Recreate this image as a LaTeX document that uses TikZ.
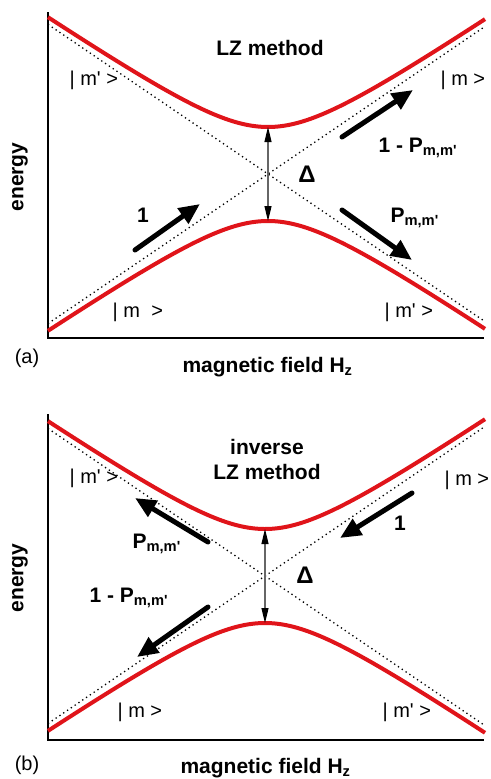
\documentclass[tikz,border=0pt]{standalone}
\usepackage{fontspec}
\setmainfont{Liberation Sans}
\usetikzlibrary{arrows.meta}
\definecolor{levelred}{HTML}{E0141A}
\definecolor{gapgray}{HTML}{666666}
\tikzset{
  level/.style={line width=4pt,draw=levelred},
  asym/.style={line width=1.3pt,dash pattern=on 1.3pt off 3.3pt},
  axis/.style={line width=1.8pt},
  gap/.style={{Triangle[length=15pt,width=7pt,color=black]}-{Triangle[length=15pt,width=7pt,color=black]},line width=1.2pt,draw=gapgray},
  % thick arrows: the way the system is swept through the crossing
  flow/.style={-{Triangle[length=21pt,width=18pt]},line width=5pt,line cap=round},
  lab/.style={font=\bfseries\fontsize{21}{25}\selectfont},
  ket/.style={font=\fontsize{20}{24}\selectfont,anchor=west},
}

\begin{document}
\begin{tikzpicture}[x=1pt,y=-1pt]
  \useasboundingbox (0,0) rectangle (490,779);
  % frame, level curves, asymptotes and gap: the same in both panels
  \foreach \oy/\cx in {0/268,402/265} {
    \begin{scope}[shift={(0,\oy)}]
      \draw[axis] (48,12) |- (484,338);
      \coordinate (tl) at (48,{174-0.68*(\cx-48)});
      \coordinate (br) at (485,{174+0.68*(485-\cx)});
      \coordinate (bl) at (48,{174+0.68*(\cx-48)});
      \coordinate (tr) at (485,{174-0.68*(485-\cx)});
      \draw[asym] (tl) -- (br);
      \draw[asym] (bl) -- (tr);
      \draw[level] plot[domain=48:485,samples=90,smooth] (\x,{174-10*sqrt((0.068*(\x-\cx))^2+4.7^2)});
      \draw[level] plot[domain=48:485,samples=90,smooth] (\x,{174+10*sqrt((0.068*(\x-\cx))^2+4.7^2)});
      \coordinate (up) at (\cx,127);
      \coordinate (down) at (\cx,221);
      \draw[gap] (up) -- (down);
    \end{scope}
  }
  % Panel (a): LZ method
  \node[lab] (titleA) at (270,48) {LZ method};
  \node[ket] (kAtl) at (66,80) {| m\textquotesingle{} >};
  \node[ket] (kAtr) at (437,80) {| m >};
  \node[ket] (kAbl) at (109,312) {| m\hspace{6pt} >};
  \node[ket] (kAbr) at (381,312) {| m\textquotesingle{} >};
  \node[lab,anchor=base west] (restA) at (375,152) {1 - P\textsubscript{m,m\textquotesingle}};
  \node[lab,anchor=base west] (probA) at (387,222) {P\textsubscript{m,m\textquotesingle}};
  \node[lab,anchor=base] (oneA) at (143,222) {1};
  \node[lab,anchor=base,font=\bfseries\fontsize{24}{28}\selectfont] (deltaA) at (307,182) {Δ};
  \coordinate (inA) at (135,250);   \coordinate (inA') at (200,204);
  \coordinate (upA) at (342,137);   \coordinate (upA') at (413,90);
  \coordinate (downA) at (342,210); \coordinate (downA') at (412,260);
  \draw[flow] (inA) -- (inA');
  \draw[flow] (upA) -- (upA');
  \draw[flow] (downA) -- (downA');
  \node[lab,rotate=90] (yA) at (20,177) {energy};
  \node[lab,anchor=base west] (xA) at (179,372) {magnetic field H\textsubscript{z}};
  \node[font=\fontsize{20}{24}\selectfont] (tagA) at (27,358) {(a)};
  % Panel (b): inverse LZ method
  \node[lab,align=center] (titleB) at (267,459) {inverse\\LZ method};
  \node[ket] (kBtl) at (66,478) {| m\textquotesingle{} >};
  \node[ket] (kBtr) at (441,480) {| m >};
  \node[ket] (kBbl) at (114,712) {| m >};
  \node[ket] (kBbr) at (379,712) {| m\textquotesingle{} >};
  \node[lab,anchor=base west] (probB) at (129,548) {P\textsubscript{m,m\textquotesingle}};
  \node[lab,anchor=base west] (restB) at (86,602) {1 - P\textsubscript{m,m\textquotesingle}};
  \node[lab,anchor=base] (oneB) at (400,530) {1};
  \node[lab,anchor=base,font=\bfseries\fontsize{24}{28}\selectfont] (deltaB) at (305,583) {Δ};
  \coordinate (inB) at (412,493);   \coordinate (inB') at (340,538);
  \coordinate (upB) at (208,542);   \coordinate (upB') at (135,498);
  \coordinate (downB) at (208,607); \coordinate (downB') at (137,657);
  \draw[flow] (inB) -- (inB');
  \draw[flow] (upB) -- (upB');
  \draw[flow] (downB) -- (downB');
  \node[lab,rotate=90] (yB) at (20,578) {energy};
  \node[lab,anchor=base west] (xB) at (177,773) {magnetic field H\textsubscript{z}};
  \node[font=\fontsize{20}{24}\selectfont] (tagB) at (27,765) {(b)};
\end{tikzpicture}
\end{document}
